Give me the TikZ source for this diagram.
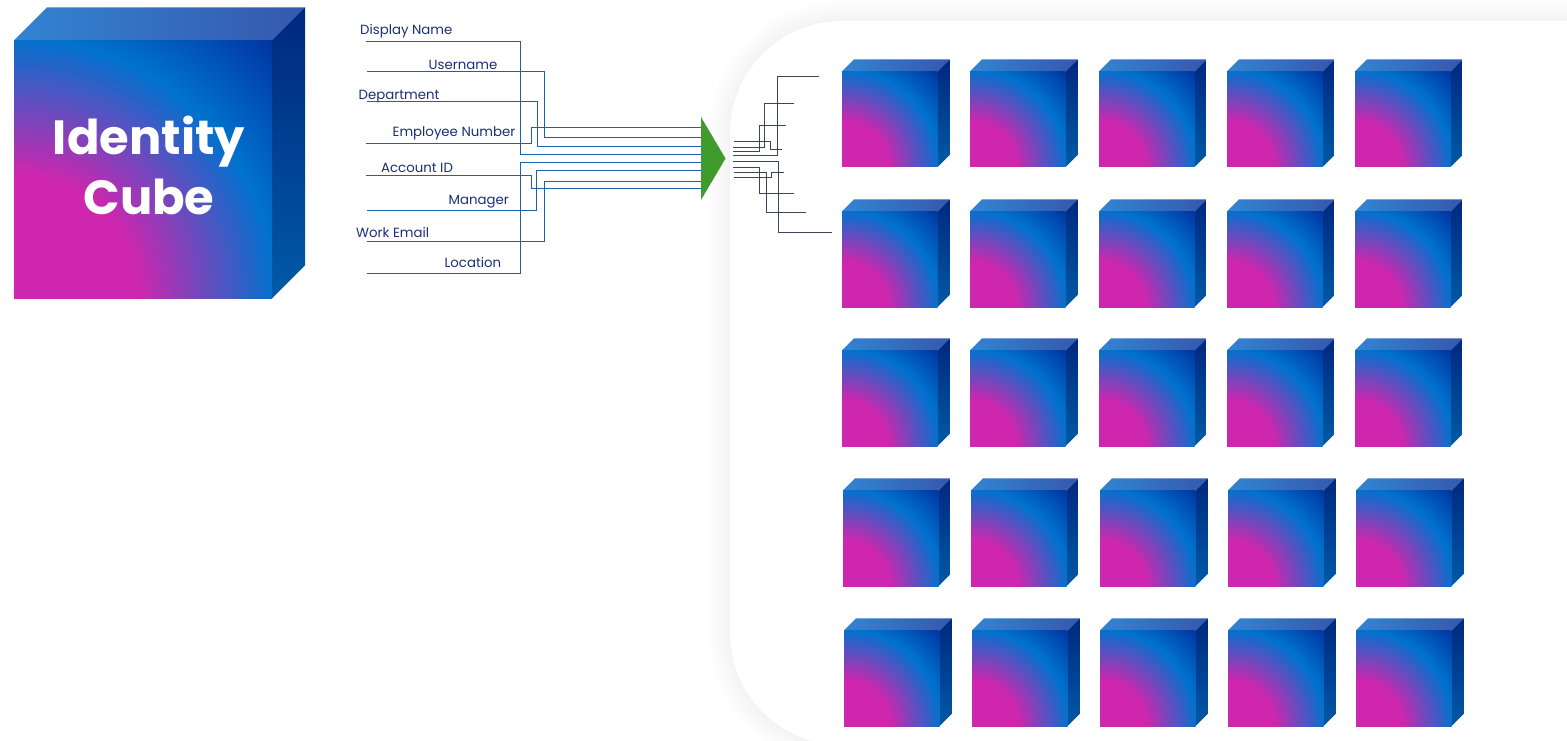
\documentclass[tikz,border=0pt]{standalone}
\usepackage{fontspec}
\setmainfont{Poppins}
\usetikzlibrary{calc}
\definecolor{mg}{HTML}{CE26AE}
\definecolor{bl}{HTML}{0072CE}
\definecolor{dk}{HTML}{0033A0}
\definecolor{topl}{HTML}{3384D2}
\definecolor{topr}{HTML}{3558AE}
\definecolor{sidet}{HTML}{00287F}
\definecolor{sideb}{HTML}{005AA6}
\definecolor{wire}{HTML}{1A62AA}
\definecolor{dwire}{HTML}{3A4656}
\definecolor{navy}{HTML}{1B2F78}
\definecolor{arrowgreen}{HTML}{3F9B2B}
\definecolor{haze}{HTML}{70746C}
\pgfdeclareradialshading{cubeglow}{\pgfpoint{0bp}{0bp}}{color(0bp)=(mg); color(8.5bp)=(mg); color(17.8bp)=(bl); color(25bp)=(dk); color(50bp)=(dk)}
\tikzset{
  x=1pt,y=-1pt,
  lbl/.style={font=\fontsize{13.3}{13.3}\selectfont,text=navy,inner sep=0pt,anchor=base west},
  bwire/.style={draw=wire,line width=1.5pt},
  gwire/.style={draw=dwire,line width=1.5pt},
  title/.style={font=\fontsize{48}{60}\selectfont\bfseries,text=white,align=center,inner sep=0pt},
}
% \drawcube{x}{y}{side}{depth}: x,y = top-left of the front face
\newcommand{\drawcube}[4]{%
  \begin{scope}
    \clip (#1,#2) -- ++(#4,-#4) -- ++(#3,0) -- ++(-#4,#4) -- cycle;
    \shade[left color=topl,right color=topr] (#1,#2-#4) rectangle (#1+#3+#4,#2);
  \end{scope}
  \begin{scope}
    \clip (#1+#3,#2) -- ++(#4,-#4) -- ++(0,#3) -- ++(-#4,#4) -- cycle;
    \shade[top color=sidet,bottom color=sideb] (#1+#3,#2-#4) rectangle (#1+#3+#4,#2+#3);
  \end{scope}
  \begin{scope}
    \clip (#1,#2) rectangle (#1+#3,#2+#3);
    \shade[shading=cubeglow] (#1,#2+#3) circle [radius=1.42*#3 pt];
  \end{scope}
}
\begin{document}
\begin{tikzpicture}
\useasboundingbox (0,0) rectangle (1567,741);
\fill[white] (0,0) rectangle (1567,741);
% panel with soft shadow
\begin{scope}
  \clip (0,0) rectangle (1567,741);
  \foreach \w in {44,40,36,32,28,24,20,16,12,8,4}
    \draw[haze,opacity=0.005,line width=\w pt,rounded corners=112pt] (730,21) rectangle (1700,745);
  \fill[white,rounded corners=112pt] (730,21) rectangle (1700,745);
\end{scope}
% big cube
\drawcube{14}{40.4}{258}{33}
\node[title] (cubetitle) at (149,165) {Identity\\Cube};
% labels
\node[lbl] (l1) at (360,35) {Display Name};
\node[lbl] (l2) at (428.5,70) {Username};
\node[lbl] (l3) at (358.5,100) {Department};
\node[lbl] (l4) at (392.5,137) {Employee Number};
\node[lbl] (l5) at (381,172) {Account ID};
\node[lbl] (l6) at (448.5,204.5) {Manager};
\node[lbl] (l7) at (356,237) {Work Email};
\node[lbl] (l8) at (444.5,267) {Location};
% blue wires into the arrow: start x / start y / x of the vertical run / end y
\foreach \sx/\sy/\mx/\ey in {366/41.5/520.5/154.5, 367/71.5/544.5/137.5, 367/101.5/537.5/146.5, 366/143.5/531.5/127.5,
                              366/175.5/531.5/188.5, 367/210.5/536.5/170.5, 367/241.5/544.5/181.5, 367/273.5/520.5/162.5}{
  \coordinate (ws) at (\sx,\sy);
  \coordinate (we) at (701,\ey);
  \draw[bwire] (ws) -- (\mx,\sy) |- (we);
}
% green arrow
\coordinate (a1) at (701,117);
\coordinate (a2) at (725.5,158.5);
\coordinate (a3) at (701,200);
\fill[arrowgreen] (a1) -- (a2) -- (a3) -- cycle;
% dark wires fanning out: start x / start y / x of the vertical run / end x / end y
\foreach \sx/\sy/\mx/\ex/\ey in {733/155.5/777.5/819/76.5, 733/147.5/764.5/793.5/103.5, 733/151.5/759.5/786/125.5,
                                  734/141.5/770.5/781.5/149.5, 733/161.5/778.5/831.5/232.5, 733/167.5/759.5/793.5/193.5,
                                  734/172.5/766.5/805.5/212.5, 734/177.5/771.5/783.5/172.5}{
  \coordinate (ds) at (\sx,\sy);
  \coordinate (de) at (\ex,\ey);
  \draw[gwire] (ds) -- (\mx,\sy) |- (de);
}
% cube grid
\foreach \x in {842,970,1099,1227,1355}{\drawcube{\x}{71.3}{95.7}{12}\drawcube{\x}{211.3}{95.7}{12}\drawcube{\x}{350.3}{95.7}{12}}
\foreach \x in {843,971,1100,1228,1356}{\drawcube{\x}{490.3}{95.7}{12}}
\foreach \x in {844,972,1100,1228,1356}{\drawcube{\x}{630.3}{95.7}{12}}
\end{tikzpicture}
\end{document}
